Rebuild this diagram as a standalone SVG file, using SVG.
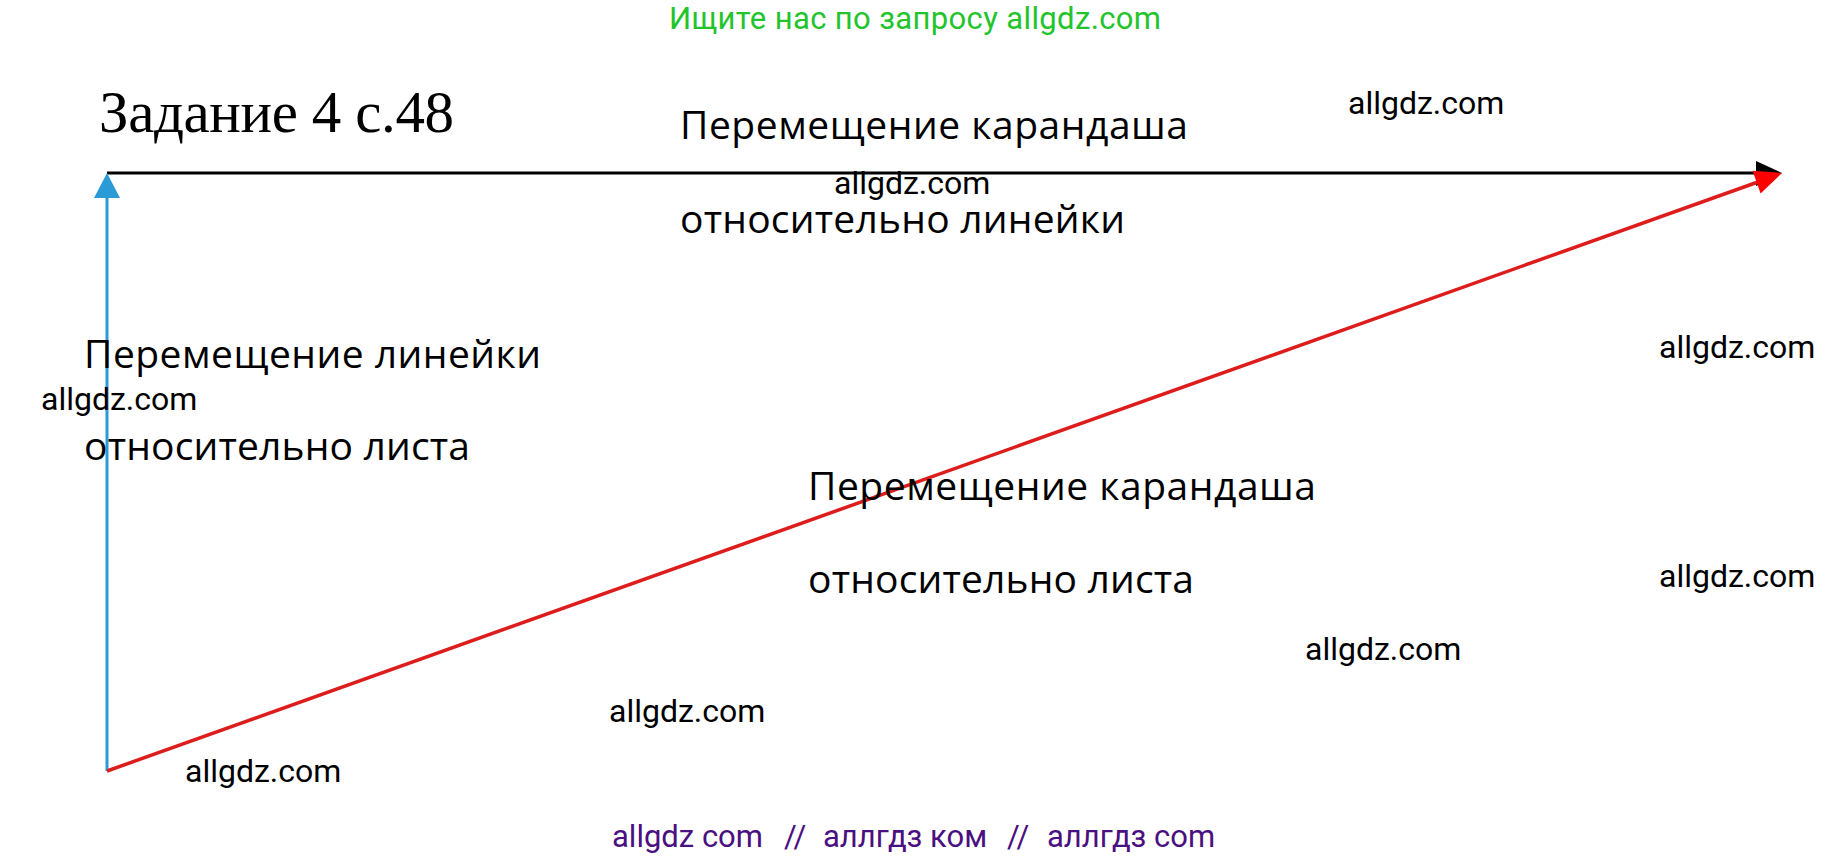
<svg xmlns="http://www.w3.org/2000/svg" width="1831" height="860" viewBox="0 0 1831 860">
<style>
.wm{font-family:Roboto,"Liberation Sans",sans-serif;font-size:32px;fill:#000}
.lbl{font-family:"Open Sans","Noto Sans","Liberation Sans",sans-serif;font-size:39px;fill:#000}
.title{font-family:"Liberation Serif","Times New Roman",serif;font-size:59px;fill:#000}
.green{font-family:Roboto,"Liberation Sans",sans-serif;font-size:31px;fill:#22c42c}
.purple{font-family:Roboto,"Liberation Sans",sans-serif;font-size:31px;fill:#4a0f80}
</style>
<rect width="1831" height="860" fill="#fff"/>
<g id="connectors">
<line x1="107" y1="173" x2="1757" y2="173" stroke="#000" stroke-width="3"/>
<polygon points="1782,173 1756,161 1756,186" fill="#000"/>
<line x1="107" y1="771" x2="107" y2="196" stroke="#2a9bd6" stroke-width="3"/>
<polygon points="107,173 94,198 120,198" fill="#2a9bd6"/>
<line x1="107" y1="771" x2="1758" y2="182" stroke="#dd1c1c" stroke-width="3.5"/>
<polygon points="1782,173 1752.6,170.8 1760.6,193.4" fill="#f00"/>
</g>
<g id="title"><text class="title" x="99" y="132" textLength="355">Задание 4 с.48</text></g>
<g id="label-pencil-ruler">
<text class="lbl" x="680" y="139" textLength="508">Перемещение карандаша</text>
<text class="lbl" x="680" y="233" textLength="445">относительно линейки</text>
</g>
<g id="label-ruler-sheet">
<text class="lbl" x="84" y="368" textLength="457">Перемещение линейки</text>
<text class="lbl" x="84" y="460" textLength="386">относительно листа</text>
</g>
<g id="label-pencil-sheet">
<text class="lbl" x="808" y="500" textLength="508">Перемещение карандаша</text>
<text class="lbl" x="808" y="593" textLength="386">относительно листа</text>
</g>
<g id="header"><text class="green" x="669" y="29" textLength="492">Ищите нас по запросу allgdz.com</text></g>
<g id="watermarks">
<text class="wm" x="1348" y="114">allgdz.com</text>
<text class="wm" x="834" y="194">allgdz.com</text>
<text class="wm" x="1659" y="358">allgdz.com</text>
<text class="wm" x="41" y="410">allgdz.com</text>
<text class="wm" x="1659" y="587">allgdz.com</text>
<text class="wm" x="1305" y="660">allgdz.com</text>
<text class="wm" x="609" y="722">allgdz.com</text>
<text class="wm" x="185" y="782">allgdz.com</text>
</g>
<g id="footer">
<text class="purple" y="847"><tspan x="612">allgdz com</tspan><tspan x="784">//</tspan><tspan x="823">аллгдз ком</tspan><tspan x="1007">//</tspan><tspan x="1047">аллгдз com</tspan></text>
</g>
</svg>
